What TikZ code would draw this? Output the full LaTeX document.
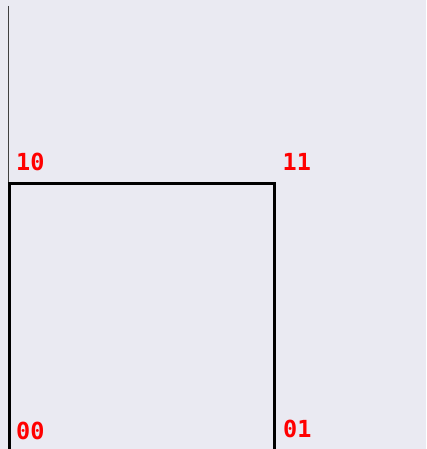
\documentclass[tikz,border=0pt]{standalone}
\usepackage{fontspec}
\newfontfamily\labelfont{DejaVu Sans Mono}
\definecolor{panelbg}{HTML}{EAEAF2}

\begin{document}
\begin{tikzpicture}[x=1pt, y=-1pt,
    corner/.style={red, font=\labelfont\bfseries\fontsize{23.5}{23.5}\selectfont, inner sep=0pt, anchor=base west}]
                    % background
                    \fill[panelbg] (0,0) rectangle (426,449);
                    \useasboundingbox (0,0) rectangle (426,449);

                    % axis line
                    \coordinate (top) at (8.5,6);
                    \coordinate (foot) at (8.5,183);
                    \draw[line width=1.6pt, black!75] (top) -- (foot);

                    % corners
                    \coordinate (c00) at (9,451);
                    \coordinate (c01) at (274,451);
                    \coordinate (c11) at (274,183.5);
                    \coordinate (c10) at (9,183.5);
                    \draw[line width=3pt] (c00) -- (c10) -- (c11) -- (c01) -- cycle;

                    % labels
                    \node[corner] (l10) at (16,170) {10};
                    \node[corner] (l11) at (282.5,170) {11};
                    \node[corner] (l00) at (16,439) {00};
                    \node[corner] (l01) at (283,437) {01};
                \end{tikzpicture}
\end{document}
